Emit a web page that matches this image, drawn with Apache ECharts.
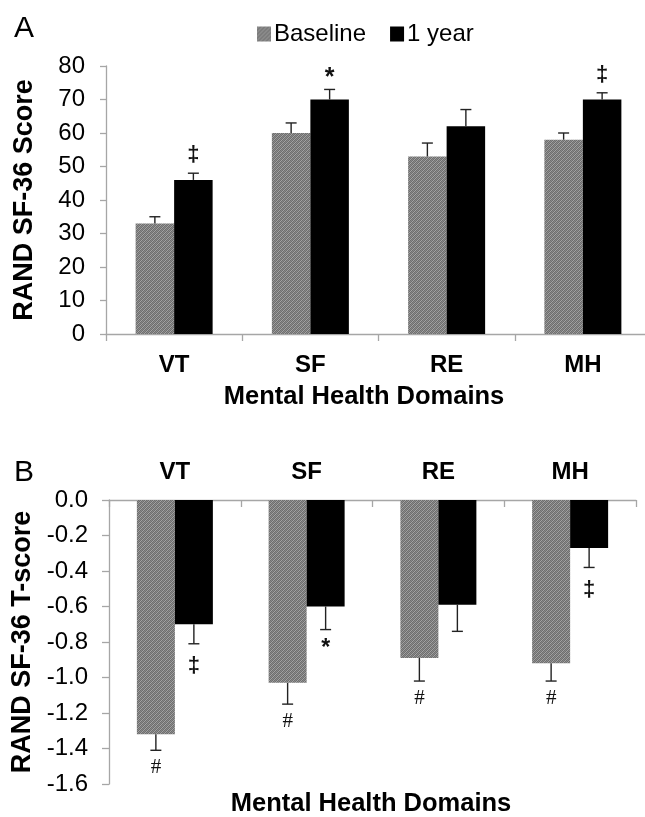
<!DOCTYPE html>
<html><head><meta charset="utf-8">
<script src="https://cdn.jsdelivr.net/npm/echarts@6/dist/echarts.min.js"></script>
<style>html,body{margin:0;padding:0;background:#fff}#c{width:645px;height:817px}</style>
</head><body><div id="c"></div>
<script>
// ---- data ----
const categories = ['VT', 'SF', 'RE', 'MH'];
const seriesNames = ['Baseline', '1 year'];
// Panel A: RAND SF-36 Score
const scoreBaseline = [33, 60, 53, 58];
const scoreBaselineErrTop = [35, 63, 57, 60];
const scoreYear = [46, 70, 62, 70];
const scoreYearErrTop = [48, 73, 67, 72];
const scoreBaselineMarks = ['', '', '', ''];
const scoreYearMarks = ['‡', '*', '', '‡'];
const scoreTickLabels = ['0', '10', '20', '30', '40', '50', '60', '70', '80'];
// Panel B: RAND SF-36 T-score
const tBaseline = [-1.32, -1.03, -0.89, -0.92];
const tBaselineErrEnd = [-1.41, -1.15, -1.02, -1.02];
const tYear = [-0.70, -0.60, -0.59, -0.27];
const tYearErrEnd = [-0.81, -0.73, -0.74, -0.38];
const tBaselineMarks = ['#', '#', '#', '#'];
const tYearMarks = ['‡', '*', '', '‡'];
const tTickLabels = ['-1.6', '-1.4', '-1.2', '-1.0', '-0.8', '-0.6', '-0.4', '-0.2', '0.0'];

// ---- styles ----
const FONT = '"Liberation Sans", Arial, Helvetica, sans-serif';
function makePattern() {
  const c = document.createElement('canvas');
  c.width = 4; c.height = 4;
  const ctx = c.getContext('2d');
  ctx.fillStyle = '#a4a4a4';
  ctx.fillRect(0, 0, 4, 4);
  ctx.fillStyle = '#6e6e6e';
  for (let y = 0; y < 4; y++) for (let x = 0; x < 4; x++) {
    if ((x + y) % 2 === 0) ctx.fillRect(x, y, 1, 1);
  }
  ctx.fillStyle = '#8a8a8a';
  for (let i = 0; i < 4; i++) ctx.fillRect((3 - i), i, 1, 1);
  return c;
}
const hatch = { image: makePattern(), repeat: 'repeat' };
const BLACK = '#000';

function errSeries(name, gridIdx, vals, ends, marks, side, barW, dir, markFonts) {
  return {
    type: 'custom', name: name, xAxisIndex: gridIdx, yAxisIndex: gridIdx,
    silent: true, z: 5,
    data: categories.map((c, i) => [i, vals[i], ends[i]]),
    renderItem: function (params, api) {
      const i = api.value(0);
      const p0 = api.coord([i, api.value(1)]);
      const p1 = api.coord([i, api.value(2)]);
      const x = p0[0] + side * barW / 2;
      const mark = marks[i];
      const children = [
        { type: 'line', shape: { x1: x, y1: p0[1], x2: x, y2: p1[1] }, style: { stroke: '#222', lineWidth: 1.4 } },
        { type: 'line', shape: { x1: x - 5.5, y1: p1[1], x2: x + 5.5, y2: p1[1] }, style: { stroke: '#222', lineWidth: 1.4 } }
      ];
      if (mark) {
        const f = markFonts[mark];
        children.push({
          type: 'text',
          style: {
            text: mark, x: x, y: p1[1] + dir * f.off,
            align: 'center', verticalAlign: 'middle',
            font: f.font, fill: '#111'
          }
        });
      }
      return { type: 'group', children: children };
    }
  };
}

const fontsA = {
  '‡': { font: 'bold 22px ' + FONT, off: 18 },
  '*': { font: 'bold 25px ' + FONT, off: 11 }
};
const fontsB = {
  '‡': { font: 'bold 22px ' + FONT, off: 22 },
  '*': { font: 'bold 23px ' + FONT, off: 19 },
  '#': { font: '21px "Liberation Serif", "Times New Roman", serif', off: 17 }
};

const chart = echarts.init(document.getElementById('c'), null, { renderer: 'canvas' });
const axisLineStyle = { color: '#a6a6a6', width: 1.3 };

chart.setOption({
  backgroundColor: '#fff',
  animation: false,
  legend: {
    left: 252, top: 17,
    itemWidth: 14, itemHeight: 15, itemGap: 24,
    icon: 'rect',
    data: seriesNames,
    textStyle: { fontFamily: FONT, fontSize: 24, color: '#000', padding: [0, 0, 0, -2] }
  },
  graphic: [
    { type: 'text', left: 14, top: 14, style: { text: 'A', font: '30px ' + FONT, fill: '#000' } },
    { type: 'text', left: 14, top: 458, style: { text: 'B', font: '30px ' + FONT, fill: '#000' } },
    { type: 'text', x: 364, y: 397, style: { text: 'Mental Health Domains', font: 'bold 25.5px ' + FONT, fill: '#000', align: 'center', verticalAlign: 'middle' } },
    { type: 'text', x: 371, y: 804, style: { text: 'Mental Health Domains', font: 'bold 25.5px ' + FONT, fill: '#000', align: 'center', verticalAlign: 'middle' } }
  ],
  grid: [
    { left: 106, top: 66, width: 545, height: 268, outerBoundsMode: 'none', containLabel: false },
    { left: 109, top: 500, width: 527, height: 284, outerBoundsMode: 'none', containLabel: false }
  ],
  xAxis: [
    {
      type: 'category', gridIndex: 0, data: categories, position: 'bottom',
      axisLine: { show: true, lineStyle: axisLineStyle },
      axisTick: { show: true, length: 7, lineStyle: axisLineStyle },
      axisLabel: { fontFamily: FONT, fontWeight: 'bold', fontSize: 24, color: '#000', margin: 19 }
    },
    {
      type: 'category', gridIndex: 1, data: categories, position: 'top',
      axisLine: { show: true, onZero: true, lineStyle: axisLineStyle },
      axisTick: { show: true, inside: true, length: 7, lineStyle: axisLineStyle },
      axisLabel: { fontFamily: FONT, fontWeight: 'bold', fontSize: 24, color: '#000', margin: 16 }
    }
  ],
  yAxis: [
    {
      type: 'value', gridIndex: 0,
      min: Number(scoreTickLabels[0]), max: Number(scoreTickLabels[scoreTickLabels.length - 1]),
      interval: Number(scoreTickLabels[1]) - Number(scoreTickLabels[0]),
      name: 'RAND SF-36 Score', nameLocation: 'middle', nameGap: 68,
      nameTextStyle: { fontFamily: FONT, fontWeight: 'bold', fontSize: 27, color: '#000' },
      axisLine: { show: true, lineStyle: axisLineStyle },
      axisTick: { show: true, length: 6, lineStyle: axisLineStyle },
      splitLine: { show: false },
      axisLabel: { fontFamily: FONT, fontSize: 24, color: '#000', margin: 21 }
    },
    {
      type: 'value', gridIndex: 1,
      min: Number(tTickLabels[0]), max: Number(tTickLabels[tTickLabels.length - 1]),
      interval: 0.2,
      name: 'RAND SF-36 T-score', nameLocation: 'middle', nameGap: 72,
      nameTextStyle: { fontFamily: FONT, fontWeight: 'bold', fontSize: 27, color: '#000' },
      axisLine: { show: true, lineStyle: axisLineStyle },
      axisTick: { show: true, length: 7, lineStyle: axisLineStyle },
      splitLine: { show: false },
      axisLabel: { fontFamily: FONT, fontSize: 24, color: '#000', margin: 21,
        formatter: v => v.toFixed(1) }
    }
  ],
  series: [
    { type: 'bar', name: seriesNames[0], xAxisIndex: 0, yAxisIndex: 0, data: scoreBaseline,
      barWidth: 38.5, barGap: '0%', itemStyle: { color: hatch } },
    { type: 'bar', name: seriesNames[1], xAxisIndex: 0, yAxisIndex: 0, data: scoreYear,
      barWidth: 38.5, barGap: '0%', itemStyle: { color: BLACK } },
    { type: 'bar', name: seriesNames[0], xAxisIndex: 1, yAxisIndex: 1, data: tBaseline,
      barWidth: 38, barGap: '0%', itemStyle: { color: hatch } },
    { type: 'bar', name: seriesNames[1], xAxisIndex: 1, yAxisIndex: 1, data: tYear,
      barWidth: 38, barGap: '0%', itemStyle: { color: BLACK } },
    errSeries('errA0', 0, scoreBaseline, scoreBaselineErrTop, scoreBaselineMarks, -1, 38.5, -1, fontsA),
    errSeries('errA1', 0, scoreYear, scoreYearErrTop, scoreYearMarks, 1, 38.5, -1, fontsA),
    errSeries('errB0', 1, tBaseline, tBaselineErrEnd, tBaselineMarks, -1, 38, 1, fontsB),
    errSeries('errB1', 1, tYear, tYearErrEnd, tYearMarks, 1, 38, 1, fontsB)
  ]
});
</script>
</body></html>
